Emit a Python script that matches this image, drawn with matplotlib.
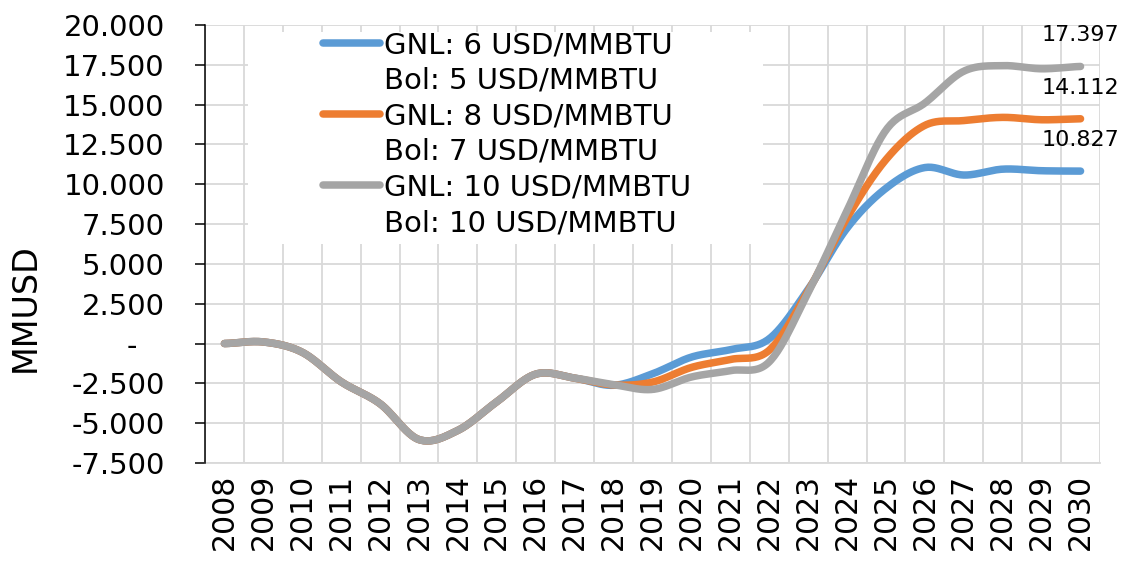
import numpy as np
import matplotlib
matplotlib.use("Agg")
import matplotlib.pyplot as plt
from matplotlib.lines import Line2D
from matplotlib.patches import Rectangle
from matplotlib.ticker import FixedLocator, FuncFormatter

# ---- data ----
years = [str(y) for y in range(2008, 2031)]
gnl6_bol5 = [0, 100, -550, -2400, -3780, -6030, -5450, -3650, -1920, -2170, -2620,
             -1900, -850, -380, 300, 3400, 7250, 9750, 11050, 10580, 10950, 10850, 10827]
gnl8_bol7 = [0, 100, -550, -2400, -3780, -6030, -5450, -3650, -1920, -2170, -2600,
             -2420, -1500, -1000, -420, 3300, 7900, 11550, 13700, 14000, 14200, 14050, 14112]
gnl10_bol10 = [0, 100, -550, -2400, -3780, -6030, -5450, -3650, -1920, -2170, -2580,
               -2880, -2100, -1700, -1150, 3200, 8350, 13400, 15100, 17100, 17450, 17250, 17397]
series_first = ["GNL: 6 USD/MMBTU", "GNL: 8 USD/MMBTU", "GNL: 10 USD/MMBTU"]
series_second = ["Bol: 5 USD/MMBTU", "Bol: 7 USD/MMBTU", "Bol: 10 USD/MMBTU"]
colors = ["#5B9BD5", "#ED7D31", "#A5A5A5"]
yticks = list(range(-7500, 20001, 2500))


def catmull_rom(values, n=24):
    v = np.asarray(values, dtype=float)
    xs, ys = [], []
    m = len(v)
    for i in range(m - 1):
        p0 = v[i - 1] if i > 0 else v[i]
        p1, p2 = v[i], v[i + 1]
        p3 = v[i + 2] if i + 2 < m else v[i + 1]
        t = np.linspace(0, 1, n, endpoint=False)
        y = 0.5 * ((2 * p1) + (-p0 + p2) * t + (2 * p0 - 5 * p1 + 4 * p2 - p3) * t ** 2
                   + (-p0 + 3 * p1 - 3 * p2 + p3) * t ** 3)
        xs.append(i + t)
        ys.append(y)
    xs.append(np.array([m - 1.0]))
    ys.append(np.array([v[-1]]))
    return np.concatenate(xs), np.concatenate(ys)


plt.rcParams['font.family'] = ['DejaVu Sans']
FS = 21

fig = plt.figure(figsize=(11.24, 5.69), dpi=100)
ax = fig.add_axes([205 / 1124, 1 - 463 / 569, 895 / 1124, 438 / 569])

grid_c = "#D9D9D9"
lw = 5.4
lines = []
for vals, c in zip([gnl6_bol5, gnl8_bol7, gnl10_bol10], colors):
    xs, ys = catmull_rom(vals)
    ln, = ax.plot(xs, ys, color=c, lw=lw, solid_capstyle='round', zorder=3)
    lines.append(ln)

ax.set_xlim(-0.5, len(years) - 0.5)
ax.set_ylim(-7500, 20000)

ax.set_xticks(range(len(years)))
ax.set_xticklabels(years, rotation=90, fontsize=FS + 0.5)
ax.xaxis.set_minor_locator(FixedLocator(np.arange(-0.5, len(years), 1.0)))
ax.tick_params(axis='x', which='both', length=0, pad=8)

ax.yaxis.set_major_locator(FixedLocator(yticks))


def fmt(v, pos):
    if v == 0:
        return "-   "
    s = f"{abs(int(v)):,}".replace(",", ".")
    return ("-" if v < 0 else "") + s


ax.yaxis.set_major_formatter(FuncFormatter(fmt))
ax.tick_params(axis='y', which='major', direction='out', length=7, width=1.1,
               color='black', labelsize=FS, pad=22)

ax.set_axisbelow(True)
ax.grid(True, axis='y', which='major', color=grid_c, lw=1.3)
ax.grid(True, axis='x', which='minor', color=grid_c, lw=1.3)
for s in ['top', 'right']:
    ax.spines[s].set_visible(False)
ax.spines['bottom'].set_color(grid_c)
ax.spines['bottom'].set_linewidth(1.3)
ax.spines['left'].set_color('black')
ax.spines['left'].set_linewidth(1.1)
ax.spines['left'].set_zorder(4)

# white legend background hiding gridlines
ax.add_patch(Rectangle((43 / 895, (463 - 244) / 438), (763 - 248) / 895, (244 - 32) / 438,
                       transform=ax.transAxes, facecolor='white', edgecolor='none', zorder=1))

handles, labels = [], []
for ln, a, b in zip(lines, series_first, series_second):
    handles.append(Line2D([], [], color=ln.get_color(), lw=lw, solid_capstyle='round'))
    labels.append(a)
    handles.append(Line2D([], [], color='none'))
    labels.append(b)
leg = ax.legend(handles, labels, loc='upper left', bbox_to_anchor=(0.132, 0.986),
                frameon=False, fontsize=FS, handlelength=1.95, handletextpad=0.12,
                labelspacing=0.26, borderpad=0, borderaxespad=0)
leg.set_zorder(5)

# end-point data labels
for vals in [gnl10_bol10, gnl8_bol7, gnl6_bol5]:
    v = vals[-1]
    ax.annotate(f"{v:,}".replace(",", "."), xy=(len(years) - 1, v), xytext=(0, 31),
                textcoords='offset pixels', ha='center', va='center', fontsize=16,
                annotation_clip=False, zorder=6)

fig.text(25 / 1124, 1 - 308 / 569, "MMUSD", rotation=90, ha='center', va='center', fontsize=24)

fig.savefig("out.png", dpi=100, facecolor='white')
